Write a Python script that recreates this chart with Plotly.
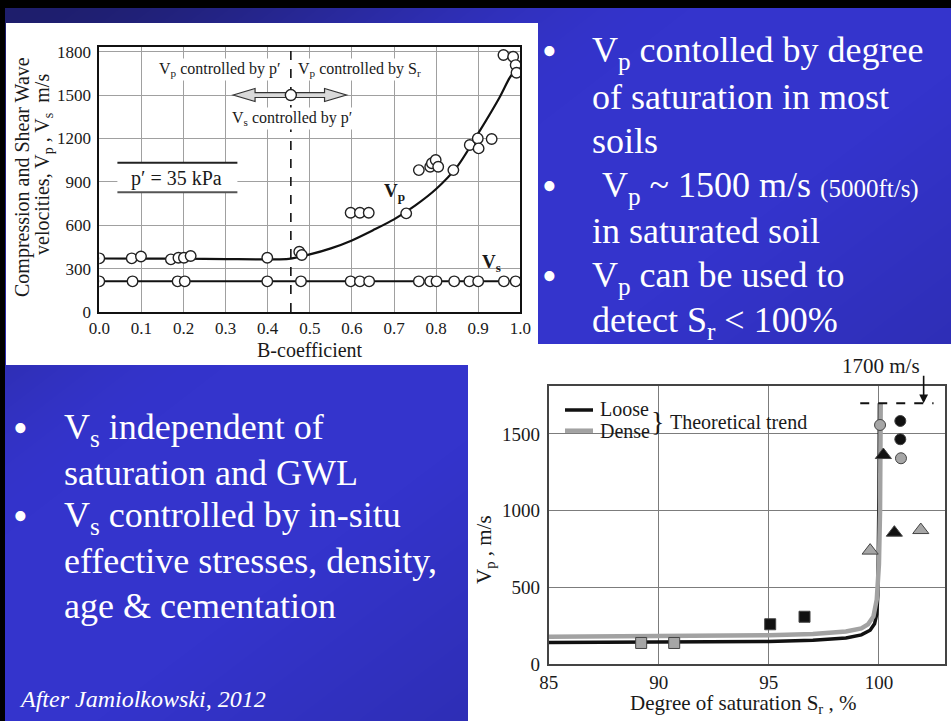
import base64
import struct
import zlib

import numpy as np
import plotly.graph_objects as go

W, H = 951, 721
SERIF = "Liberation Serif"

# ---------------- top chart: velocities vs B-coefficient (p' = 35 kPa) ----------------
b_vs = [0.0, 0.079, 0.186, 0.203, 0.399, 0.479, 0.597, 0.619, 0.641,
        0.759, 0.786, 0.801, 0.843, 0.879, 0.900, 0.961, 0.989]
vs_vals = [212, 212, 212, 212, 212, 212, 212, 212, 212,
           212, 212, 212, 212, 212, 212, 212, 212]

b_vp = [0.0, 0.077, 0.099, 0.170, 0.188, 0.201, 0.217, 0.399, 0.475, 0.481,
        0.597, 0.619, 0.640, 0.729, 0.759, 0.786, 0.790, 0.799, 0.805, 0.841,
        0.880, 0.899, 0.901, 0.932, 0.960, 0.983, 0.989, 0.991]
vp_vals = [371, 371, 384, 364, 375, 375, 387, 375, 417, 394,
           686, 686, 686, 682, 981, 1004, 1028, 1051, 1004, 981,
           1154, 1200, 1131, 1196, 1777, 1765, 1707, 1654]

# trend curve of Vp
b_fit = [0.0, 0.1, 0.2, 0.3, 0.4, 0.45, 0.5, 0.55, 0.6, 0.65, 0.7,
         0.75, 0.8, 0.85, 0.9, 0.95, 0.975, 0.993]
vp_fit = [370, 369, 368, 366, 364, 367, 398, 440, 495, 565, 640,
          735, 850, 1005, 1235, 1480, 1620, 1690]

B_LIMIT = 0.455          # boundary between p'-controlled and Sr-controlled Vp
B_ARROW_Y = 1500
top_xticks = [0.0, 0.1, 0.2, 0.3, 0.4, 0.5, 0.6, 0.7, 0.8, 0.9, 1.0]
top_yticks = [0, 300, 600, 900, 1200, 1500, 1800]

# ---------------- bottom chart: Vp vs degree of saturation ----------------
sr_loose = [85, 90, 95, 97, 98.5, 99.2, 99.6, 99.8, 99.9, 99.95, 99.98, 100.0, 100.02]
vp_loose = [140, 142, 147, 155, 170, 190, 220, 262, 325, 450, 700, 1100, 1700]
sr_dense = [85, 90, 95, 97, 98.5, 99.2, 99.5, 99.75, 99.9, 100.0, 100.05, 100.08]
vp_dense = [178, 181, 188, 196, 212, 232, 258, 310, 420, 650, 1000, 1700]

sq_grey_x, sq_grey_y = [89.2, 90.7], [137, 137]
sq_black_x, sq_black_y = [95.06, 96.62], [259, 308]
tri_grey_x, tri_grey_y = [99.6, 101.9], [739, 873]
tri_black_x, tri_black_y = [100.2, 100.7], [1362, 856]
cir_grey_x, cir_grey_y = [100.05, 101.0], [1558, 1341]
cir_black_x, cir_black_y = [100.97, 100.97], [1584, 1465]

SAT_LIMIT = 1700
bot_xticks = [85, 90, 95, 100]
bot_yticks = [0, 500, 1000, 1500]


def px(x):
    return x / W


def py(y):
    return 1 - y / H


# ---------------- slide background: gradient, black border, white panels ----------------
def png_data_uri(rgb):
    h, w, _ = rgb.shape
    raw = b"".join(b"\x00" + rgb[i].tobytes() for i in range(h))

    def chunk(tag, data):
        c = struct.pack(">I", len(data)) + tag + data
        return c + struct.pack(">I", zlib.crc32(tag + data) & 0xFFFFFFFF)

    png = (b"\x89PNG\r\n\x1a\n"
           + chunk(b"IHDR", struct.pack(">IIBBBBB", w, h, 8, 2, 0, 0, 0))
           + chunk(b"IDAT", zlib.compress(raw, 9))
           + chunk(b"IEND", b""))
    return "data:image/png;base64," + base64.b64encode(png).decode()


yy, xx = np.mgrid[0:H, 0:W].astype(float)
dark = np.array([30, 30, 108], dtype=float)
bright = np.array([52, 52, 204], dtype=float)
t = np.clip((xx + 1.3 * yy) / 700.0, 0, 1)
t = t * t * (3 - 2 * t)
bg = dark + (bright - dark) * t[..., None]
dim = 0.14 * np.clip((xx / W + yy / H - 1.1) / 0.5, 0, 1)
bg = bg * (1 - dim[..., None])
bg[0:8, :] = 0
bg[:, 0:5] = 0
bg[23:365, 6:538] = 255      # panel holding the B-coefficient chart
bg[344:H, 468:W] = 255       # panel holding the saturation chart
bg_uri = png_data_uri(np.clip(bg, 0, 255).astype(np.uint8))

fig = go.Figure()

# ---- top chart traces ----
fig.add_trace(go.Scatter(
    x=b_vs, y=vs_vals, mode="lines+markers", xaxis="x", yaxis="y",
    line=dict(color="#111", width=2),
    marker=dict(symbol="circle", size=10.5, color="white", line=dict(color="#222", width=1.4)),
    showlegend=False, hoverinfo="skip"))
fig.add_trace(go.Scatter(
    x=b_fit, y=vp_fit, mode="lines", xaxis="x", yaxis="y",
    line=dict(color="#111", width=2.2, shape="spline", smoothing=0.8),
    showlegend=False, hoverinfo="skip"))
fig.add_trace(go.Scatter(
    x=b_vp, y=vp_vals, mode="markers", xaxis="x", yaxis="y",
    marker=dict(symbol="circle", size=10.5, color="white", line=dict(color="#222", width=1.4)),
    showlegend=False, hoverinfo="skip"))

# ---- bottom chart traces ----
fig.add_trace(go.Scatter(
    x=sr_loose, y=vp_loose, mode="lines", xaxis="x2", yaxis="y2", name="Loose",
    line=dict(color="#111", width=3.5), showlegend=False, hoverinfo="skip"))
fig.add_trace(go.Scatter(
    x=sr_dense, y=vp_dense, mode="lines", xaxis="x2", yaxis="y2", name="Dense",
    line=dict(color="#a2a2a2", width=4.5), showlegend=False, hoverinfo="skip"))

GREY = "#a6a6a6"
OUT = dict(color="#444", width=1)
for xs, ys, sym, col, sz in [
    (sq_grey_x, sq_grey_y, "square", GREY, 11),
    (sq_black_x, sq_black_y, "square", "#111", 11),
    (tri_grey_x, tri_grey_y, "triangle-up", GREY, 14),
    (tri_black_x, tri_black_y, "triangle-up", "#111", 14),
    (cir_grey_x, cir_grey_y, "circle", GREY, 11),
    (cir_black_x, cir_black_y, "circle", "#111", 11),
]:
    fig.add_trace(go.Scatter(
        x=xs, y=ys, mode="markers", xaxis="x2", yaxis="y2",
        marker=dict(symbol=sym, size=sz, color=col, line=OUT),
        showlegend=False, hoverinfo="skip"))

# ---------------- shapes ----------------
shapes = [
    # boundary B value
    dict(type="line", xref="x", yref="y", x0=B_LIMIT, x1=B_LIMIT, y0=0, y1=1832,
         line=dict(color="#111", width=1.6, dash="dash")),
    # double arrow
    dict(type="path", xref="x", yref="y",
         path=(f"M 0.318,{B_ARROW_Y} L 0.37,{B_ARROW_Y + 45} L 0.37,{B_ARROW_Y + 17} "
               f"L 0.535,{B_ARROW_Y + 17} L 0.535,{B_ARROW_Y + 45} L 0.587,{B_ARROW_Y} "
               f"L 0.535,{B_ARROW_Y - 45} L 0.535,{B_ARROW_Y - 17} L 0.37,{B_ARROW_Y - 17} "
               f"L 0.37,{B_ARROW_Y - 45} Z"),
         fillcolor="#d9d9d9", line=dict(color="#333", width=1.2)),
    # circle at the boundary
    dict(type="circle", xref="x", yref="y", xsizemode="pixel", ysizemode="pixel",
         xanchor=B_LIMIT, yanchor=B_ARROW_Y, x0=-5.5, x1=5.5, y0=-5.5, y1=5.5,
         fillcolor="white", line=dict(color="#222", width=1.4)),
    # p' = 35 kPa box
    dict(type="rect", xref="x", yref="y", x0=0.043, x1=0.328, y0=827, y1=1032,
         fillcolor="white", line=dict(width=0)),
    dict(type="line", xref="x", yref="y", x0=0.043, x1=0.328, y0=1032, y1=1032,
         line=dict(color="#222", width=2)),
    dict(type="line", xref="x", yref="y", x0=0.043, x1=0.328, y0=827, y1=827,
         line=dict(color="#555", width=2)),
    # 1700 m/s level
    dict(type="line", xref="x2", yref="y2", x0=99.15, x1=102.48, y0=SAT_LIMIT, y1=SAT_LIMIT,
         line=dict(color="#111", width=2, dash="dash")),
    # legend samples
    dict(type="line", xref="paper", yref="paper", x0=px(565), x1=px(593), y0=py(410), y1=py(410),
         line=dict(color="#111", width=3.5)),
    dict(type="line", xref="paper", yref="paper", x0=px(565), x1=px(593), y0=py(430.7), y1=py(430.7),
         line=dict(color="#a2a2a2", width=4.5)),
]

# ---------------- annotations ----------------
ann = []
DK = "#1a1a1a"


def text_line(txt, x, baseline, size, color="white", anchor="left", sub=False, italic=False):
    # place a single line of text by its baseline
    cy = baseline - (0.30 if sub else 0.3375) * size
    t_ = f"<i>{txt}</i>" if italic else txt
    ann.append(dict(text=t_, x=px(x), y=py(cy), xref="paper", yref="paper",
                    xanchor=anchor, yanchor="middle", showarrow=False,
                    font=dict(family=SERIF, size=size, color=color)))


def label(txt, x, y, size, xref="paper", yref="paper", anchor="center", angle=0, bg=None):
    if xref == "paper":
        x = px(x)
    if yref == "paper":
        y = py(y)
    d = dict(text=txt, x=x, y=y, xref=xref, yref=yref, xanchor=anchor, yanchor="middle",
             textangle=angle, showarrow=False, font=dict(family=SERIF, size=size, color=DK))
    if bg:
        d["bgcolor"] = bg
    ann.append(d)


# right column bullets
FS = 36
for bl in [63, 198, 288]:
    text_line("•", 549, bl + 2, 42, anchor="center")
text_line("V<sub>p</sub> contolled by degree", 590, 63, FS, sub=True)
text_line("of saturation in most", 590, 109, FS)
text_line("soils", 590, 153, FS)
text_line("V<sub>p</sub> ~ 1500 m/s <span style=\"font-size:25px\">(5000ft/s)</span>", 600, 198, FS, sub=True)
text_line("in saturated soil", 590, 243, FS)
text_line("V<sub>p</sub> can be used to", 590, 288, FS, sub=True)
text_line("detect S<sub>r</sub> &lt; 100%", 590, 333, FS, sub=True)

# left column bullets
for bl in [440, 528]:
    text_line("•", 20, bl + 2, 42, anchor="center")
text_line("V<sub>s</sub> independent of", 62, 440, FS, sub=True)
text_line("saturation and GWL", 62, 485, FS)
text_line("V<sub>s</sub> controlled by in-situ", 62, 528, FS, sub=True)
text_line("effective stresses, density,", 62, 573, FS)
text_line("age &amp; cementation", 62, 618, FS)
text_line("After Jamiolkowski, 2012", 17, 707, 24, italic=True)

# top chart labels
label("Compression and Shear Wave", 22, 177, 20, angle=-90)
label("velocities, V<sub>p</sub> , V<sub>s</sub>  m/s", 43, 165, 20, angle=-90)
label("B-coefficient", 310, 350, 20)
label("V<sub>p</sub> controlled by p′", 0.437, 1675, 16, "x", "y", anchor="right", bg="white")
label("V<sub>p</sub> controlled by S<sub>r</sub>", 0.468, 1675, 16, "x", "y", anchor="left", bg="white")
label("V<sub>s</sub> controlled by p′", 0.458, 1340, 16, "x", "y", bg="white")
label("p′ = 35 kPa", 0.183, 925, 20, "x", "y")
label("<b>V<sub>p</sub></b>", 0.702, 830, 19, "x", "y")
label("<b>V<sub>s</sub></b>", 0.932, 340, 19, "x", "y")

# bottom chart labels
label("V<sub>p</sub> , m/s", 485, 550, 21, angle=-90)
label("Degree of saturation S<sub>r</sub> , %", 743, 704, 21)
label("Loose", 598, 409, 20, anchor="left")
label("Dense", 598, 431, 20, anchor="left")
label("}", 657, 421, 28)
label("Theoretical trend", 668, 422, 20, anchor="left")
label(f"{SAT_LIMIT} m/s", 881, 366, 21)
ann.append(dict(text="", x=102.03, y=SAT_LIMIT, xref="x2", yref="y2", showarrow=True,
                ax=0, ay=-29, arrowhead=2, arrowsize=1.1, arrowwidth=1.6, arrowcolor="#111"))

axis_common = dict(showgrid=True, zeroline=False, showline=True, mirror=True,
                   fixedrange=True, automargin=False)
tick_gap = dict(ticks="outside", tickcolor="rgba(0,0,0,0)", ticklen=3)

fig.update_layout(
    width=W, height=H, margin=dict(l=0, r=0, t=0, b=0, autoexpand=False),
    paper_bgcolor="#3333cc", plot_bgcolor="rgba(0,0,0,0)",
    font=dict(family=SERIF),
    images=[dict(source=bg_uri, xref="paper", yref="paper", x=0, y=1, sizex=1, sizey=1,
                 xanchor="left", yanchor="top", sizing="stretch", layer="below")],
    shapes=shapes, annotations=ann, showlegend=False,
    xaxis=dict(domain=[px(99.3), px(520.3)], range=[0, 1], anchor="y",
               tickvals=top_xticks, ticktext=[f"{v:.1f}" for v in top_xticks],
               gridcolor="#a0a0a0", gridwidth=1, linecolor="#111", linewidth=2, ticks="",
               tickfont=dict(family=SERIF, size=17, color=DK), **axis_common),
    yaxis=dict(domain=[py(312), py(47)], range=[0, 1832], anchor="x",
               tickvals=top_yticks, gridcolor="#a0a0a0", gridwidth=1, linecolor="#111", linewidth=2,
               tickfont=dict(family=SERIF, size=17, color=DK), **tick_gap, **axis_common),
    xaxis2=dict(domain=[px(548.7), px(945)], range=[85, 103.0], anchor="y2",
                tickvals=bot_xticks, gridcolor="#7c7c7c", gridwidth=1, linecolor="#444", linewidth=1.6,
                ticks="", tickfont=dict(family=SERIF, size=19, color=DK), **axis_common),
    yaxis2=dict(domain=[py(664), py(386)], range=[0, 1812], anchor="x2",
                tickvals=bot_yticks, gridcolor="#7c7c7c", gridwidth=1, linecolor="#444", linewidth=1.6,
                tickfont=dict(family=SERIF, size=19, color=DK), **tick_gap, **axis_common),
)

fig.write_html("out.html", config={"displayModeBar": False})
